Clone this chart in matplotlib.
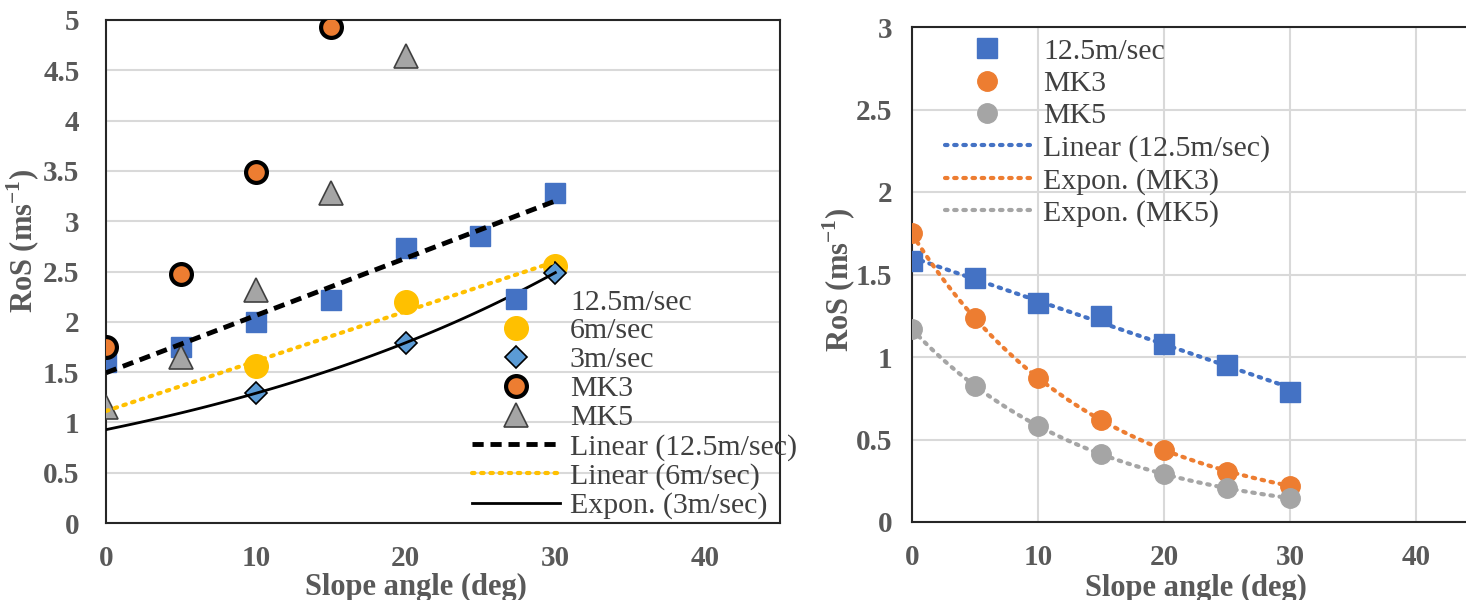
import numpy as np
import matplotlib
matplotlib.use("Agg")
import matplotlib.pyplot as plt

plt.rcParams['font.family'] = ['Liberation Serif', 'DejaVu Serif']

# left panel data
slope_all = [0, 5, 10, 15, 20, 25, 30]
ros_125 = [1.60, 1.75, 2.00, 2.22, 2.73, 2.85, 3.28]
slope_6 = [10, 20, 30]
ros_6 = [1.56, 2.20, 2.55]
slope_3 = [10, 20, 30]
ros_3 = [1.29, 1.79, 2.49]
slope_mk3 = [0, 5, 10, 15]
ros_mk3 = [1.75, 2.48, 3.49, 4.93]
slope_mk5 = [0, 5, 10, 15, 20]
ros_mk5 = [1.15, 1.65, 2.32, 3.28, 4.64]

# right panel data
r_slope = [0, 5, 10, 15, 20, 25, 30]
r_125 = [1.58, 1.48, 1.33, 1.25, 1.08, 0.95, 0.79]
r_mk3 = [1.75, 1.235, 0.873, 0.618, 0.437, 0.306, 0.221]
r_mk5 = [1.167, 0.825, 0.584, 0.412, 0.29, 0.205, 0.145]

BLUE = '#4472C4'
ORANGE = '#ED7D31'
GRAY = '#A5A5A5'
YELLOW = '#FFC000'
LBLUE = '#5B9BD5'
TICK = '#595959'
TXT = '#404040'


def lin_fit(x, y, xs):
    a, b = np.polyfit(x, y, 1)
    return a * xs + b


def exp_fit(x, y, xs):
    a, b = np.polyfit(x, np.log(y), 1)
    return np.exp(b) * np.exp(a * xs)


def style_axes(ax, ypad):
    ax.tick_params(length=0, labelsize=21, labelcolor=TICK)
    ax.tick_params(axis='y', pad=ypad)
    ax.tick_params(axis='x', pad=16)
    for lab in ax.get_xticklabels() + ax.get_yticklabels():
        lab.set_fontweight('bold')
    for sp in ax.spines.values():
        sp.set_color('#262626')
        sp.set_linewidth(1.5)
    ax.set_xlabel('Slope angle (deg)', fontsize=22, fontweight='bold', color=TICK)
    ax.set_ylabel('RoS (ms$^{\\mathregular{-1}}$)', fontsize=22, fontweight='bold', color=TICK)


fig = plt.figure(figsize=(14.66, 6), dpi=100)
ax1 = fig.add_axes([106 / 1466, 77 / 600, 674 / 1466, 503 / 600])
ax2 = fig.add_axes([912 / 1466, 78 / 600, 567 / 1466, 495 / 600])

xs = np.linspace(0, 30, 100)

# ---- left panel ----
ax1.plot(slope_all, ros_125, 's', color=BLUE, ms=15, ls='none', label='12.5m/sec', zorder=3)
ax1.plot(slope_6, ros_6, 'o', color=YELLOW, ms=17, ls='none', label='6m/sec', zorder=3)
ax1.plot(slope_3, ros_3, 'D', color=LBLUE, mec='black', mew=1.2, ms=11, ls='none',
         label='3m/sec', zorder=4)
ax1.plot(slope_mk3, ros_mk3, 'o', color=ORANGE, mec='black', mew=3, ms=15, ls='none',
         label='MK3', zorder=3)
ax1.plot(slope_mk5, ros_mk5, '^', color=GRAY, mec='#404040', mew=1.2, ms=17, ls='none',
         label='MK5', zorder=3)
ax1.plot(xs, lin_fit(slope_all, ros_125, xs), color='black', lw=3.5, ls=(0, (2.3, 1.4)),
         label='Linear (12.5m/sec)', zorder=5)
ax1.plot(xs, lin_fit(slope_6, ros_6, xs), color=YELLOW, lw=3, ls=(0, (0.6, 1.6)),
         dash_capstyle='round', label='Linear (6m/sec)', zorder=5)
ax1.plot(xs, exp_fit(slope_3, ros_3, xs), color='black', lw=2, label='Expon. (3m/sec)', zorder=5)

ax1.set_xlim(0, 45)
ax1.set_ylim(0, 5)
ax1.set_xticks([0, 10, 20, 30, 40])
ax1.set_yticks(np.arange(0, 5.01, 0.5))
ax1.set_yticklabels(['0', '0.5', '1', '1.5', '2', '2.5', '3', '3.5', '4', '4.5', '5'])
ax1.grid(axis='y', color='#D9D9D9', lw=1.5)
ax1.set_axisbelow(True)
style_axes(ax1, 19)
ax1.xaxis.set_label_coords(0.46, -0.1)
ax1.yaxis.set_label_coords(-0.095, 0.56)
leg1 = ax1.legend(loc='upper left', bbox_to_anchor=(0.543, 0.466), frameon=False,
                  fontsize=21.5, labelspacing=0.07, handlelength=2.95, handletextpad=0.33,
                  borderpad=0, borderaxespad=0, numpoints=1)
for t in leg1.get_texts():
    t.set_color(TXT)

# ---- right panel ----
ax2.plot(r_slope, r_125, 's', color=BLUE, ms=15, ls='none', label='12.5m/sec', zorder=3)
ax2.plot(r_slope, r_mk3, 'o', color=ORANGE, ms=14, ls='none', label='MK3', zorder=3)
ax2.plot(r_slope, r_mk5, 'o', color=GRAY, ms=14, ls='none', label='MK5', zorder=3)
ax2.plot(xs, lin_fit(r_slope, r_125, xs), color=BLUE, lw=3, ls=(0, (0.6, 1.6)),
         dash_capstyle='round', label='Linear (12.5m/sec)', zorder=4)
ax2.plot(xs, exp_fit(r_slope, r_mk3, xs), color=ORANGE, lw=3, ls=(0, (0.6, 1.6)),
         dash_capstyle='round', label='Expon. (MK3)', zorder=4)
ax2.plot(xs, exp_fit(r_slope, r_mk5, xs), color=GRAY, lw=3, ls=(0, (0.6, 1.6)),
         dash_capstyle='round', label='Expon. (MK5)', zorder=4)

ax2.set_xlim(0, 45)
ax2.set_ylim(0, 3)
ax2.set_xticks([0, 10, 20, 30, 40])
ax2.set_yticks([0, 0.5, 1, 1.5, 2, 2.5, 3])
ax2.set_yticklabels(['0', '0.5', '1', '1.5', '2', '2.5', '3'])
ax2.grid(color='#D9D9D9', lw=1.5)
ax2.set_axisbelow(True)
style_axes(ax2, 14)
ax2.xaxis.set_label_coords(0.5, -0.104)
ax2.yaxis.set_label_coords(-0.095, 0.49)
leg2 = ax2.legend(loc='upper left', bbox_to_anchor=(0.058, 0.978), frameon=False,
                  fontsize=21.5, labelspacing=0.18, handlelength=2.85, handletextpad=0.44,
                  borderpad=0, borderaxespad=0, numpoints=1)
for t in leg2.get_texts():
    t.set_color(TXT)

fig.savefig('out.png', dpi=100)
